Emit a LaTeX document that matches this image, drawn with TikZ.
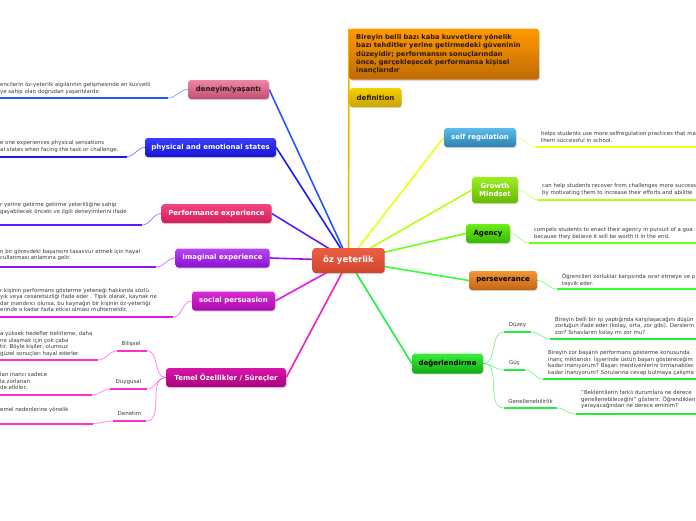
\documentclass[tikz,border=0pt]{standalone}
\usepackage{fontspec}
\setmainfont{DejaVu Sans}
\usetikzlibrary{shadows}
\pgfdeclarelayer{bg}
\pgfsetlayers{bg,main}
\definecolor{tdark}{HTML}{2A1A10}
\definecolor{leafgray}{HTML}{3A3A3A}
\definecolor{cgold}{HTML}{F2B400}
\definecolor{cden}{HTML}{2257FF}
\definecolor{cphys}{HTML}{1C1CEE}
\definecolor{cperf}{HTML}{5A1CFF}
\definecolor{cimag}{HTML}{9A12EE}
\definecolor{csoc}{HTML}{E619E6}
\definecolor{ctem}{HTML}{F020B8}
\definecolor{csub}{HTML}{FF2ECC}
\definecolor{csr}{HTML}{EEFF11}
\definecolor{cgro}{HTML}{B8FF10}
\definecolor{cage}{HTML}{6CFF18}
\definecolor{cper}{HTML}{33FF33}
\definecolor{cdeg}{HTML}{22F040}
% node fills
\definecolor{ctrT}{HTML}{EC5E44}\definecolor{ctrB}{HTML}{D2462E}
\definecolor{topT}{HTML}{FF9A00}\definecolor{topB}{HTML}{BF6A05}
\definecolor{defT}{HTML}{F2D200}\definecolor{defB}{HTML}{C9A300}
\definecolor{denT}{HTML}{EE86A6}\definecolor{denB}{HTML}{C2506F}
\definecolor{phyT}{HTML}{3C3CFF}\definecolor{phyB}{HTML}{1414D2}
\definecolor{perT}{HTML}{F2457E}\definecolor{perB}{HTML}{D21E5C}
\definecolor{imaT}{HTML}{B646F2}\definecolor{imaB}{HTML}{8A10D0}
\definecolor{socT}{HTML}{D92AD9}\definecolor{socB}{HTML}{A80CAE}
\definecolor{temT}{HTML}{DA14A8}\definecolor{temB}{HTML}{A8047E}
\definecolor{srT}{HTML}{5CBDEA}\definecolor{srB}{HTML}{2C80B0}
\definecolor{grT}{HTML}{9CEE22}\definecolor{grB}{HTML}{66BA00}
\definecolor{agT}{HTML}{6CEE16}\definecolor{agB}{HTML}{38B800}
\definecolor{psT}{HTML}{F29634}\definecolor{psB}{HTML}{C46414}
\definecolor{dgT}{HTML}{3AEE3A}\definecolor{dgB}{HTML}{12AA12}
\tikzset{
  mainnode/.style={rounded corners=3pt, inner sep=1pt, align=center,
    font=\bfseries\fontsize{7}{8.2}\selectfont,
    drop shadow={shadow xshift=0.6pt,shadow yshift=-1.2pt,opacity=0.3}},
  leaftext/.style={anchor=north west, inner sep=0pt, align=left,
    font=\fontsize{5.4}{6.5}\selectfont, text=leafgray},
  sublabel/.style={inner sep=0pt, font=\fontsize{5.5}{6.5}\selectfont, text=leafgray},
  spoke/.style={line width=1.6pt},
  uline/.style={line width=2pt},
  twig/.style={line width=0.8pt, opacity=0.55},
}
\begin{document}
\begin{tikzpicture}[x=1pt,y=-1pt]
\useasboundingbox (0,0) rectangle (696,520);

% central node
\node[mainnode, minimum width=72pt, minimum height=25pt, top color=ctrT, bottom color=ctrB, text=white, font=\bfseries\fontsize{8.5}{10}\selectfont] (c) at (348.5,260.5) {öz yeterlik};

% top definition
\node[mainnode, anchor=north west, minimum height=51pt, text width=176pt, inner xsep=7pt, align=left, top color=topT, bottom color=topB, text=tdark, font=\bfseries\fontsize{6.7}{8.2}\selectfont] (top) at (349,28.5) {Bireyin belli bazı kaba kuvvetlere yönelik\\bazı tehditler yerine getirmedeki güveninin\\düzeyidir; performansın sonuçlarından\\önce, gerçekleşecek performansa kişisel\\inançlarıdır};
\node[mainnode, minimum width=52pt, minimum height=19pt, top color=defT, bottom color=defB, text=tdark] (def) at (375.5,97.5) {definition};

% left main nodes
\node[mainnode, minimum width=81pt, minimum height=19pt, top color=denT, bottom color=denB, text=tdark] (den) at (228.5,89.5) {deneyim/yaşantı};
\node[mainnode, minimum width=131pt, minimum height=19pt, top color=phyT, bottom color=phyB, text=white] (phy) at (210.5,147.5) {physical and emotional states};
\node[mainnode, minimum width=110pt, minimum height=19pt, top color=perT, bottom color=perB, text=white] (per) at (216.5,213.5) {Performance experience};
\node[mainnode, minimum width=94pt, minimum height=19pt, top color=imaT, bottom color=imaB, text=white] (ima) at (222.5,258) {Imaginal experience};
\node[mainnode, minimum width=83pt, minimum height=19pt, top color=socT, bottom color=socB, text=white] (soc) at (233.5,301) {social persuasion};
\node[mainnode, minimum width=120pt, minimum height=19pt, top color=temT, bottom color=temB, text=white] (tem) at (226,377.5) {Temel Özellikler / Süreçler};

% right main nodes
\node[mainnode, minimum width=72pt, minimum height=19pt, top color=srT, bottom color=srB, text=white] (sr) at (480,137.5) {self regulation};
\node[mainnode, minimum width=46pt, minimum height=26pt, top color=grT, bottom color=grB, text=white] (gr) at (495,190) {Growth\\Mindset};
\node[mainnode, minimum width=44pt, minimum height=19pt, top color=agT, bottom color=agB, text=black] (ag) at (488,233.5) {Agency};
\node[mainnode, minimum width=68pt, minimum height=19pt, top color=psT, bottom color=psB, text=black] (ps) at (503,280.5) {perseverance};
\node[mainnode, minimum width=71pt, minimum height=20pt, top color=dgT, bottom color=dgB, text=black] (dg) at (447.5,363.5) {değerlendirme};

% sub labels
\node[sublabel] (bil) at (131,344) {Bilişsel};
\node[sublabel] (duy) at (128.5,382) {Duygusal};
\node[sublabel] (dnt) at (129.5,413.5) {Denetim};
\node[sublabel] (duz) at (517.5,325) {Düzey};
\node[sublabel] (guc) at (514.5,363) {Güç};
\node[sublabel] (gen) at (530.5,401) {Genellenebilirlik};

% leaf texts
\node[leaftext] (tden) at (0,82.4) {encilerin öz-yeterlik algılarının gelişmesinde en kuvvetli\\ye sahip olan doğrudan yaşantılardır.};
\node[leaftext] (tphy) at (0,140.4) {e one experiences physical sensations\\al states when facing the task or challenge.};
\node[leaftext] (tper) at (0,202.4) {r yerine getirme getirme yeterliliğine sahip\\gayabilecek önceki ve ilgili deneyimlerini ifade};
\node[leaftext] (tima) at (0,249) {n bir görevdeki başarısını tasavvur etmek için hayal\\cullanması anlamına gelir.};
\node[leaftext] (tsoc) at (0,287.6) {r kişinin performans gösterme yeteneği hakkında sözlü\\yık veya cesaretsizliği ifade eder . Tipik olarak, kaynak ne\\dar inandırıcı olursa, bu kaynağın bir kişinin öz-yeterliği\\erinde o kadar fazla etkisi olması muhtemeldir.};
\node[leaftext] (tbil) at (0,331.6) {a yüksek hedefler belirleme, daha\\ne ulaşmak için çok çaba\\tir. Böyle kişiler, olumsuz\\güzel sonuçları hayal ederler.};
\node[leaftext] (tduy) at (0,372.6) {lan inancı sadece\\la zorlanan\\de etkiler.};
\node[leaftext] (tdnt) at (0,407.6) {emel nedenlerine yönelik};
\node[leaftext] (tsr) at (541,131.6) {helps students use more selfregulation practices that ma\\them successful in school.};
\node[leaftext] (tgr) at (542,183.6) {can help students recover from challenges more success\\by motivating them to increase their efforts and abilitie};
\node[leaftext] (tag) at (534,227.6) {compels students to enact their agency in pursuit of a goa\\because they believe it will be worth it in the end.};
\node[leaftext] (tps) at (562,273.6) {Öğrencileri zorluklar karşısında ısrar etmeye ve p\\teşvik eder.};
\node[leaftext] (tduz) at (555,316.6) {Bireyin belli bir işi yaptığında karşılaşacağını düşün\\zorluğun ifade eder (kolay, orta, zor gibi). Derslerin\\zor? Sınavlarım kolay mı zor mu?};
\node[leaftext] (tguc) at (548,350.6) {Bireyin zor başarılı performans gösterme konusunda\\inanç miktarıdır. İşyerinde üstün başarı göstereceğim\\kadar inanıyorum? Başarı merdivenlerini tırmanabilec\\kadar inanıyorum? Sorularına cevap bulmaya çalışma};
\node[leaftext] (tgen) at (581,390.6) {"Beklentilerin farklı durumlara ne derece\\genellenebileceğini" gösterir. Öğrendikleri\\yarayacağından ne derece eminim?};

% underline coordinates
\coordinate (uden1) at (168,98);   \coordinate (uden0) at (0,98);
\coordinate (uphy1) at (127,156.5);\coordinate (uphy0) at (0,156.5);
\coordinate (uper1) at (142,225);  \coordinate (uper0) at (0,225);
\coordinate (uima1) at (156,267);  \coordinate (uima0) at (0,267);
\coordinate (usoc1) at (173,317);  \coordinate (usoc0) at (0,317);
\coordinate (ubilR) at (147,351);  \coordinate (ubilL) at (117,351);
\coordinate (ulbil1) at (98,360);  \coordinate (ulbil0) at (0,360);
\coordinate (uduyR) at (147,389);  \coordinate (uduyL) at (110,389);
\coordinate (ulduy1) at (92,395);  \coordinate (ulduy0) at (0,395);
\coordinate (udntR) at (146,421);  \coordinate (udntL) at (113,421);
\coordinate (uldnt1) at (93,423.5);\coordinate (uldnt0) at (0,423.5);
\coordinate (usr0) at (536,147);   \coordinate (usr1) at (696,147);
\coordinate (ugr0) at (537,199.5); \coordinate (ugr1) at (696,199.5);
\coordinate (uag0) at (529,243);   \coordinate (uag1) at (696,243);
\coordinate (ups0) at (557,289);   \coordinate (ups1) at (696,289);
\coordinate (uduzL) at (504,332);  \coordinate (uduzR) at (531,332);
\coordinate (ulduz0) at (550,338.5);\coordinate (ulduz1) at (696,338.5);
\coordinate (ugucL) at (504,370);  \coordinate (ugucR) at (525,370);
\coordinate (ulguc0) at (543,379); \coordinate (ulguc1) at (696,379);
\coordinate (ugenL) at (504,408);  \coordinate (ugenR) at (557,408);
\coordinate (ulgen0) at (576,414); \coordinate (ulgen1) at (696,414);

\begin{pgfonlayer}{bg}
% spokes from the centre
\draw[spoke, cgold] (c.center) -- (top.north west);
\draw[spoke, cden] (c.center) -- (den.east);
\draw[spoke, cphys] (c.center) -- (phy.east);
\draw[spoke, cperf] (c.center) -- (per.east);
\draw[spoke, cimag] (c.center) -- (ima.east);
\draw[spoke, csoc] (c.center) -- (soc.east);
\draw[spoke, ctem] (c.center) -- (tem.east);
\draw[spoke, csr] (c.center) -- (sr.west);
\draw[spoke, cgro] (c.center) -- (gr.west);
\draw[spoke, cage] (c.center) -- (ag.west);
\draw[spoke, cper] (c.center) -- (ps.west);
\draw[spoke, cdeg] (c.center) -- (dg.west);

% left leaves
\draw[twig, cden] (den.west) to[out=180,in=0] (uden1);
\draw[uline, cden] (uden1) -- (uden0);
\draw[twig, cphys] (phy.west) to[out=180,in=0] (uphy1);
\draw[uline, cphys] (uphy1) -- (uphy0);
\draw[twig, cperf] (per.west) to[out=180,in=0] (uper1);
\draw[uline, cperf] (uper1) -- (uper0);
\draw[twig, cimag] (ima.west) to[out=180,in=0] (uima1);
\draw[uline, cimag] (uima1) -- (uima0);
\draw[twig, csoc] (soc.west) to[out=180,in=0] (usoc1);
\draw[uline, csoc] (usoc1) -- (usoc0);

% Temel branch
\draw[twig, csub] (tem.west) to[out=180,in=0] (ubilR);
\draw[twig, csub] (tem.west) to[out=180,in=0] (uduyR);
\draw[twig, csub] (tem.west) to[out=180,in=0] (udntR);
\draw[uline, csub] (ubilR) -- (ubilL);
\draw[uline, csub] (uduyR) -- (uduyL);
\draw[uline, csub] (udntR) -- (udntL);
\draw[twig, csub] (ubilL) to[out=180,in=0] (ulbil1);
\draw[twig, csub] (uduyL) to[out=180,in=0] (ulduy1);
\draw[twig, csub] (udntL) to[out=180,in=0] (uldnt1);
\draw[uline, csub] (ulbil1) -- (ulbil0);
\draw[uline, csub] (ulduy1) -- (ulduy0);
\draw[uline, csub] (uldnt1) -- (uldnt0);

% right leaves
\draw[twig, csr] (sr.east) to[out=0,in=180] (usr0);
\draw[uline, csr] (usr0) -- (usr1);
\draw[twig, cgro] (gr.east) to[out=0,in=180] (ugr0);
\draw[uline, cgro] (ugr0) -- (ugr1);
\draw[twig, cage] (ag.east) to[out=0,in=180] (uag0);
\draw[uline, cage] (uag0) -- (uag1);
\draw[twig, cper] (ps.east) to[out=0,in=180] (ups0);
\draw[uline, cper] (ups0) -- (ups1);

% değerlendirme branch
\draw[twig, cdeg] (dg.east) to[out=0,in=180] (uduzL);
\draw[twig, cdeg] (dg.east) to[out=0,in=180] (ugucL);
\draw[twig, cdeg] (dg.east) to[out=0,in=180] (ugenL);
\draw[uline, cdeg] (uduzL) -- (uduzR);
\draw[uline, cdeg] (ugucL) -- (ugucR);
\draw[uline, cdeg] (ugenL) -- (ugenR);
\draw[twig, cdeg] (uduzR) to[out=0,in=180] (ulduz0);
\draw[twig, cdeg] (ugucR) to[out=0,in=180] (ulguc0);
\draw[twig, cdeg] (ugenR) to[out=0,in=180] (ulgen0);
\draw[uline, cdeg] (ulduz0) -- (ulduz1);
\draw[uline, cdeg] (ulguc0) -- (ulguc1);
\draw[uline, cdeg] (ulgen0) -- (ulgen1);
\end{pgfonlayer}
\end{tikzpicture}
\end{document}
